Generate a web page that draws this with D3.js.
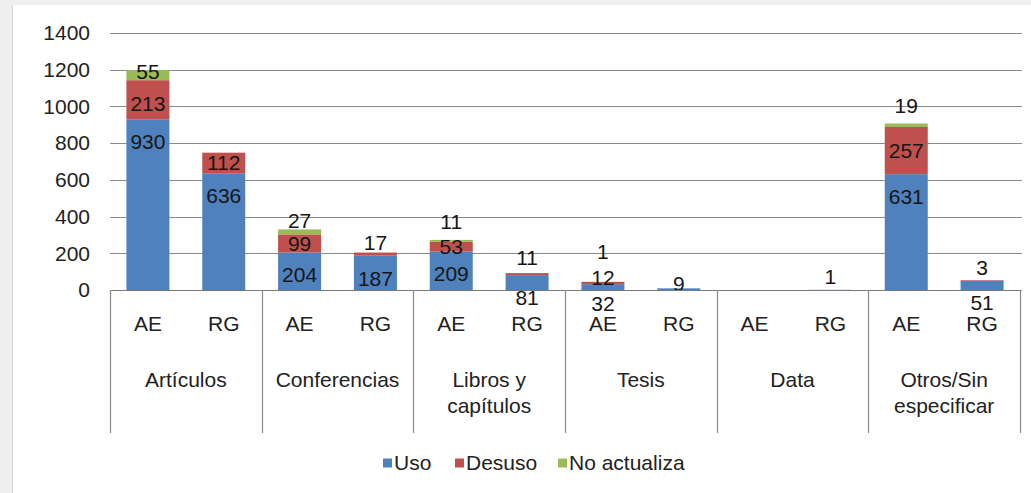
<!DOCTYPE html>
<html>
<head>
<meta charset="utf-8">
<script src="https://cdn.jsdelivr.net/npm/d3@7"></script>
<style>
  body { margin: 0; background: #efefef; }
  svg { display: block; font-family: "Liberation Sans", Arial, sans-serif; }
</style>
</head>
<body>
<svg id="chart"></svg>
<script>
// data
const categories = ["Artículos", "Conferencias", "Libros y capítulos", "Tesis", "Data", "Otros/Sin especificar"];
const categoryLines = [["Artículos"], ["Conferencias"], ["Libros y", "capítulos"], ["Tesis"], ["Data"], ["Otros/Sin", "especificar"]];
const subgroups = ["AE", "RG"];
const seriesNames = ["Uso", "Desuso", "No actualiza"];

// values in order: [cat][sub]
const uso =         [[930, 636], [204, 187], [209, 81], [32, 9], [0, 1], [631, 51]];
const desuso =      [[213, 112], [99, 17],   [53, 11],  [12, 0], [0, 0], [257, 3]];
const noActualiza = [[55, 0],    [27, 0],    [11, 0],   [1, 0],  [0, 0], [19, 0]];

const yTicks = [0, 200, 400, 600, 800, 1000, 1200, 1400];

const colors = ["#4f81bd", "#c0504d", "#9bbb59"];

// hand placed labels (pixel shift from the default spot)
const labelNudge = {
  "Tesis|AE|Uso": -3,
  "Tesis|RG|Uso": -27,
  "Data|RG|Uso": -36,
  "Artículos|AE|Desuso": 4,
  "Conferencias|RG|Desuso": -11,
  "Libros y capítulos|RG|Desuso": -16,
  "Tesis|AE|Desuso": -5,
  "Otros/Sin especificar|RG|Desuso": -13,
  "Artículos|AE|No actualiza": -3,
  "Conferencias|AE|No actualiza": -11,
  "Libros y capítulos|AE|No actualiza": -19,
  "Tesis|AE|No actualiza": -30,
  "Otros/Sin especificar|AE|No actualiza": -20
};

const W = 1031, H = 493;
const svg = d3.select("#chart").attr("width", W).attr("height", H);

// white panel
svg.append("rect").attr("x", 0).attr("y", 0).attr("width", W).attr("height", H).attr("fill", "#efefef");
svg.append("rect").attr("x", 13).attr("y", 5).attr("width", W - 13).attr("height", H - 5)
  .attr("fill", "#fff");
svg.append("line").attr("x1", 12.5).attr("x2", 12.5).attr("y1", 5).attr("y2", H)
  .attr("stroke", "#d6d6d6");

const plot = { left: 110, right: 1020, top: 33, bottom: 290 };

const y = d3.scaleLinear().domain([0, 1400]).range([plot.bottom, plot.top]);
const x0 = d3.scaleBand().domain(categories).range([plot.left, plot.right]).padding(0);
const x1 = d3.scaleBand().domain(subgroups).range([0, x0.bandwidth()])
  .paddingInner(0.433).paddingOuter(0.2165);

const g = svg.append("g");
const ink = "#222";

// gridlines
g.selectAll(".grid").data(yTicks).enter().append("line")
  .attr("class", "grid")
  .attr("x1", plot.left).attr("x2", plot.right + 2)
  .attr("y1", d => Math.round(y(d)) + 0.5).attr("y2", d => Math.round(y(d)) + 0.5)
  .attr("stroke", "#8a8a8a").attr("stroke-width", 1.2);

// y tick labels
g.selectAll(".ytick").data(yTicks).enter().append("text")
  .attr("x", 90).attr("y", d => y(d)).attr("dy", "0.35em")
  .attr("text-anchor", "end").attr("font-size", 21).attr("fill", ink)
  .text(d => d);

// stacked segments
const seriesData = [uso, desuso, noActualiza];
const rows = [];
categories.forEach((c, ci) => {
  subgroups.forEach((s, si) => {
    let base = 0;
    seriesData.forEach((arr, k) => {
      const v = arr[ci][si];
      rows.push({ cat: c, sub: s, series: seriesNames[k], k: k, v: v, y0: base, y1: base + v });
      base += v;
    });
  });
});

g.selectAll(".seg").data(rows.filter(d => d.v > 0)).enter().append("rect")
  .attr("class", "seg")
  .attr("x", d => x0(d.cat) + x1(d.sub))
  .attr("width", x1.bandwidth())
  .attr("y", d => y(d.y1))
  .attr("height", d => y(d.y0) - y(d.y1))
  .attr("fill", d => colors[d.k]);

// value labels
g.selectAll(".val").data(rows.filter(d => d.v > 0)).enter().append("text")
  .attr("class", "val")
  .attr("x", d => x0(d.cat) + x1(d.sub) + x1.bandwidth() / 2)
  .attr("y", d => {
    const base = d.k === 0 ? y(d.y1) + 22.5 : (y(d.y0) + y(d.y1)) / 2;
    return base + (labelNudge[d.cat + "|" + d.sub + "|" + d.series] || 0);
  })
  .attr("dy", "0.35em")
  .attr("text-anchor", "middle").attr("font-size", 21).attr("fill", "#161616")
  .text(d => d.v);

// category axis: baseline and separators
g.append("line")
  .attr("x1", plot.left).attr("x2", plot.right)
  .attr("y1", plot.bottom + 0.5).attr("y2", plot.bottom + 0.5)
  .attr("stroke", "#7a7a7a").attr("stroke-width", 1.2);

const seps = categories.map(c => x0(c)).concat([plot.right]);
g.selectAll(".sep").data(seps).enter().append("line")
  .attr("x1", d => Math.round(d) + 0.5).attr("x2", d => Math.round(d) + 0.5)
  .attr("y1", plot.bottom).attr("y2", 433)
  .attr("stroke", "#8a8a8a").attr("stroke-width", 1.2);

// sub labels
const subRows = [];
categories.forEach(c => subgroups.forEach(s => subRows.push({ cat: c, sub: s })));
g.selectAll(".sub").data(subRows).enter().append("text")
  .attr("x", d => x0(d.cat) + x1(d.sub) + x1.bandwidth() / 2)
  .attr("y", 324).attr("dy", "0.35em")
  .attr("text-anchor", "middle").attr("font-size", 21).attr("fill", ink)
  .text(d => d.sub);

// category labels
categories.forEach((c, ci) => {
  const t = g.append("text")
    .attr("x", x0(c) + x0.bandwidth() / 2)
    .attr("y", 380).attr("dy", "0.35em")
    .attr("text-anchor", "middle").attr("font-size", 21).attr("fill", ink);
  categoryLines[ci].forEach((line, li) => {
    t.append("tspan").attr("x", x0(c) + x0.bandwidth() / 2)
      .attr("dy", li === 0 ? "0.35em" : 26).text(line);
  });
});

// legend
const legendX = [383, 455, 558];
const legend = g.selectAll(".leg").data(seriesNames).enter().append("g")
  .attr("transform", (d, i) => `translate(${legendX[i]},463)`);
legend.append("rect").attr("x", 0).attr("y", -4.5).attr("width", 9).attr("height", 9)
  .attr("fill", (d, i) => colors[i]);
legend.append("text").attr("x", 11).attr("y", 0).attr("dy", "0.35em")
  .attr("font-size", 21).attr("fill", ink)
  .text(d => d);
</script>
</body>
</html>
